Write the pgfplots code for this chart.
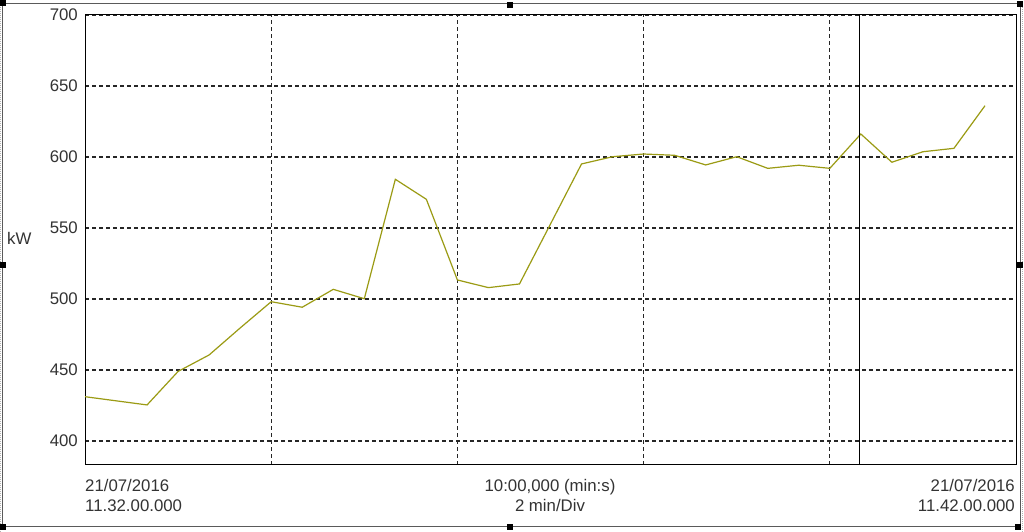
\documentclass[border=0pt]{standalone}
\usepackage{pgfplots}
\pgfplotsset{compat=1.18}
\usepackage{fontspec}
\setmainfont{Liberation Sans}
\definecolor{lineol}{RGB}{155,155,20}
\definecolor{frm}{RGB}{90,90,90}
\begin{document}
\begin{tikzpicture}[x=1pt,y=1pt]
\useasboundingbox (0,0) rectangle (1024,532);
\fill[white] (0,0) rectangle (1024,532);
% outer frame
\draw[frm, line width=1pt] (2,5) rectangle (1020,528);
\draw[gray!60, line width=1pt, dash pattern=on 1pt off 1pt] (0.5,0) -- (0.5,532);
\draw[gray!60, line width=1pt, dash pattern=on 1pt off 1pt] (1022.5,0) -- (1022.5,532);
\foreach \p in {(3,529),(510,527),(1020,528),(3,267),(1020,267),(3,5),(510,5),(1018,5)}
  \fill[black] \p ++(-3,-3) rectangle ++(6,6);
\begin{axis}[
  at={(85pt,67pt)}, anchor=south west,
  width=931pt, height=450pt, scale only axis,
  xmin=0, xmax=10, ymin=383.1, ymax=700,
  xtick={2,4,6,8}, xticklabels={},
  ytick={400,450,...,700},
  grid=major,
  major grid style={black!85, line width=1.2pt, dash pattern=on 4pt off 3pt},
  axis line style={black, line width=1pt},
  major tick length=0pt,
  tick style={draw=none},
  /pgf/number format/assume math mode=true,
  yticklabel style={font=\fontsize{16.8}{18}\selectfont, anchor=east, inner sep=0pt, xshift=-7pt, text=black!80},
  clip=true,
]
\addplot[lineol, line width=1.2pt] table {
x y
0.0000 431.2
0.3333 428.3
0.6667 425.4
1.0000 449.0
1.3333 460.6
1.6667 479.6
2.0000 498.1
2.3333 494.2
2.6667 506.8
3.0000 500.2
3.3333 584.3
3.6667 570.2
4.0000 513.4
4.3333 508.0
4.6667 510.6
5.0000 552.8
5.3333 595.1
5.6667 600.2
6.0000 602.1
6.3333 601.2
6.6667 594.4
7.0000 600.2
7.3333 592.0
7.6667 594.2
8.0000 592.0
8.3333 616.2
8.6667 596.3
9.0000 603.7
9.3333 606.1
9.6667 636.1
};
\draw[black, line width=1pt] (axis cs:8.323,383.1) -- (axis cs:8.323,700);
\end{axis}
\begin{scope}[every node/.style={font=\fontsize{16.8}{18}\selectfont, text=black!80, inner sep=0pt}]
\node[anchor=base west] at (7,287) {kW};
\node[anchor=base west] at (85,40) {21/07/2016};
\node[anchor=base west] at (85,20) {11.32.00.000};
\node[anchor=base] at (550,40) {10:00,000 (min:s)};
\node[anchor=base] at (550,20) {2 min/Div};
\node[anchor=base east] at (1015,40) {21/07/2016};
\node[anchor=base east] at (1015,20) {11.42.00.000};
\end{scope}
\end{tikzpicture}
\end{document}
